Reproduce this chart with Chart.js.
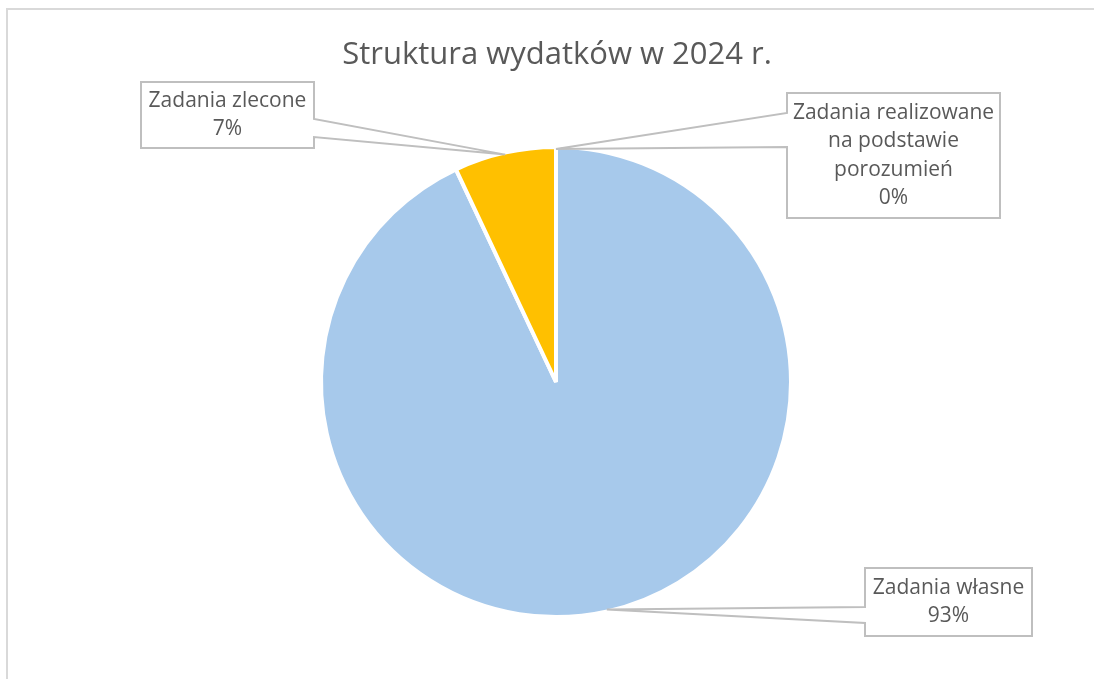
<!DOCTYPE html>
<html>
<head>
<meta charset="utf-8">
<script src="https://cdn.jsdelivr.net/npm/chart.js@4/dist/chart.umd.min.js"></script>
<style>
  html, body { margin: 0; padding: 0; background: #ffffff; }
  #wrap { position: relative; width: 1094px; height: 679px; }
  canvas { display: block; }
</style>
</head>
<body>
<div id="wrap"><canvas id="c" width="1094" height="679"></canvas></div>
<script>
// ---- data ----
const chartTitle = 'Struktura wydatków w 2024 r.';
const categories = ['Zadania własne', 'Zadania zlecone', 'Zadania realizowane na podstawie porozumień'];
const values = [93, 7, 0];
const labelLines = [
  ['Zadania własne'],
  ['Zadania zlecone'],
  ['Zadania realizowane', 'na podstawie', 'porozumień']
];
const sliceColors = ['#A7C9EB', '#FFC000', '#A5A5A5'];

// ---- layout of callout boxes (placement only) ----
const callouts = [
  { box: [865, 568, 1032, 636], side: 'left',  base: [607, 623] },
  { box: [141, 82, 314, 148],   side: 'right', base: [119, 137] },
  { box: [787, 93, 1000, 218],  side: 'left',  base: [113, 147] }
];
const FONT = '"Open Sans", "Noto Sans", sans-serif';
const TEXT_COLOR = '#595959';

const total = values.reduce((a, b) => a + b, 0);

const decorPlugin = {
  id: 'decor',
  beforeDraw(chart) {
    const ctx = chart.ctx;
    ctx.save();
    ctx.strokeStyle = '#d9d9d9';
    ctx.lineWidth = 2;
    ctx.strokeRect(7, 9, 1200, 800);
    ctx.fillStyle = TEXT_COLOR;
    ctx.font = '31px ' + FONT;
    ctx.textAlign = 'center';
    ctx.textBaseline = 'middle';
    ctx.fillText(chartTitle, 557, 55);
    ctx.restore();
  },
  afterDraw(chart) {
    const ctx = chart.ctx;
    const meta = chart.getDatasetMeta(0);
    ctx.save();
    meta.data.forEach((arc, i) => {
      const p = arc.getProps(['x', 'y', 'startAngle', 'endAngle', 'outerRadius'], true);
      const mid = (p.startAngle + p.endAngle) / 2;
      const r = p.outerRadius - 2;
      const tx = p.x + Math.cos(mid) * r;
      const ty = p.y + Math.sin(mid) * r;
      const c = callouts[i];
      const [x1, y1, x2, y2] = c.box;
      ctx.beginPath();
      if (c.side === 'left') {
        ctx.moveTo(x1, y1);
        ctx.lineTo(x2, y1);
        ctx.lineTo(x2, y2);
        ctx.lineTo(x1, y2);
        ctx.lineTo(x1, c.base[1]);
        ctx.lineTo(tx, ty);
        ctx.lineTo(x1, c.base[0]);
        ctx.closePath();
      } else {
        ctx.moveTo(x1, y1);
        ctx.lineTo(x2, y1);
        ctx.lineTo(x2, c.base[0]);
        ctx.lineTo(tx, ty);
        ctx.lineTo(x2, c.base[1]);
        ctx.lineTo(x2, y2);
        ctx.lineTo(x1, y2);
        ctx.closePath();
      }
      ctx.fillStyle = '#ffffff';
      ctx.fill();
      ctx.strokeStyle = '#bfbfbf';
      ctx.lineWidth = 2;
      ctx.lineJoin = 'miter';
      ctx.stroke();

      const lines = labelLines[i].concat([Math.round(values[i] / total * 100) + '%']);
      const lh = 28.5;
      const cx = (x1 + x2) / 2;
      const cy = (y1 + y2) / 2;
      ctx.fillStyle = TEXT_COLOR;
      ctx.font = '21px ' + FONT;
      ctx.textAlign = 'center';
      ctx.textBaseline = 'middle';
      lines.forEach((t, k) => {
        ctx.fillText(t, cx, cy + (k - (lines.length - 1) / 2) * lh);
      });
    });
    ctx.restore();
  }
};

new Chart(document.getElementById('c'), {
  type: 'pie',
  data: {
    labels: categories,
    datasets: [{
      data: values,
      backgroundColor: sliceColors,
      borderColor: '#ffffff',
      borderWidth: 4,
      hoverOffset: 0
    }]
  },
  options: {
    responsive: false,
    animation: false,
    devicePixelRatio: 1,
    radius: 235,
    layout: { padding: { left: 18, right: 0, top: 85, bottom: 0 } },
    plugins: {
      legend: { display: false },
      tooltip: { enabled: false },
      title: { display: false }
    }
  },
  plugins: [decorPlugin]
});
</script>
</body>
</html>
